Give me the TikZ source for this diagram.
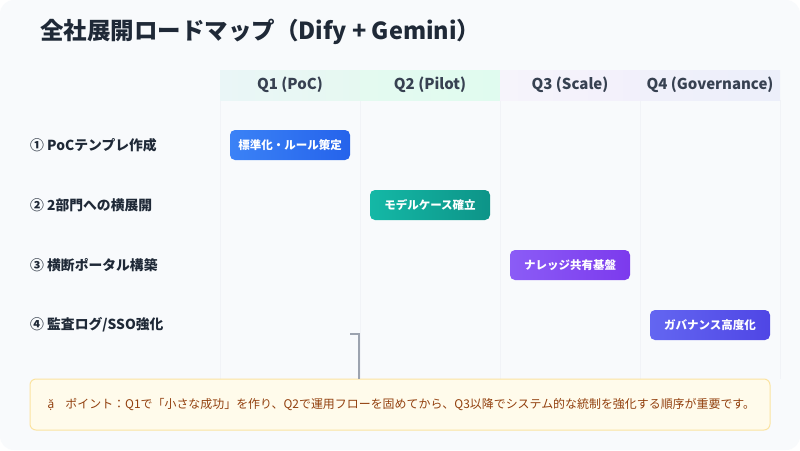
\documentclass[tikz,border=0pt]{standalone}
\usepackage{fontspec}
\setmainfont{Noto Sans CJK JP}
\newfontfamily\vietfont{Noto Sans}
\usetikzlibrary{positioning}

\definecolor{cardbg}{HTML}{F8FAFC}
\definecolor{titletext}{HTML}{1F2937}
\definecolor{headtext}{HTML}{374151}
\definecolor{labeltext}{HTML}{1F2937}
\definecolor{colline}{HTML}{F1F3F7}
\definecolor{qoneL}{HTML}{EAF6F7}
\definecolor{qoneR}{HTML}{E6F8F1}
\definecolor{qtwoL}{HTML}{E4FAF0}
\definecolor{qtwoR}{HTML}{E0FBEF}
\definecolor{qthreeL}{HTML}{F6F4FB}
\definecolor{qthreeR}{HTML}{F2F0FB}
\definecolor{qfourL}{HTML}{F0F0FA}
\definecolor{qfourR}{HTML}{ECEFFA}
\definecolor{blueL}{HTML}{3B82F6}
\definecolor{blueR}{HTML}{2563EB}
\definecolor{tealL}{HTML}{14B8A6}
\definecolor{tealR}{HTML}{0D9488}
\definecolor{violetL}{HTML}{8B5CF6}
\definecolor{violetR}{HTML}{7C3AED}
\definecolor{indigoL}{HTML}{6366F1}
\definecolor{indigoR}{HTML}{4F46E5}
\definecolor{notefill}{HTML}{FFFBEB}
\definecolor{noteline}{HTML}{FBE3A1}
\definecolor{notetext}{HTML}{92400E}
\definecolor{hookgray}{HTML}{9CA3AF}

\begin{document}
\begin{tikzpicture}[x=1pt,y=-1pt,
  qhead/.style={minimum width=140pt,minimum height=30pt,inner sep=0pt,text=headtext,
    font=\fontsize{15}{17}\selectfont\bfseries},
  rowlabel/.style={anchor=west,inner sep=0pt,text=labeltext,font=\fontsize{13.8}{16}\selectfont\bfseries},
  task/.style={rounded corners=5pt,minimum width=120pt,minimum height=30pt,inner sep=0pt,
    text=white,font=\fontsize{11.5}{13}\selectfont\bfseries}]
\fill[white] (0,0) rectangle (800,450);
\fill[cardbg,rounded corners=14pt] (0,0) rectangle (800,450);
\useasboundingbox (0,0) rectangle (800,450);
% title
\node[anchor=west,inner sep=0pt,text=titletext,font=\fontsize{23.5}{26}\selectfont\bfseries]
  (title) at (40,32) {全社展開ロードマップ（Dify + Gemini）};
% quarter columns
\foreach \x in {220,360,500,640,780} \draw[colline] (\x,100) -- (\x,379);
\foreach \lbl/\cl/\cr [count=\i] in {Q1 (PoC)/qoneL/qoneR,Q2 (Pilot)/qtwoL/qtwoR,
    Q3 (Scale)/qthreeL/qthreeR,Q4 (Governance)/qfourL/qfourR}
  \node[qhead,left color=\cl,right color=\cr] (q\i) at (150+140*\i,85) {\lbl};
% rows and tasks
\foreach \lbl [count=\i] in {① PoCテンプレ作成,② 2部門への横展開,③ 横断ポータル構築,④ 監査ログ/SSO強化}
  \node[rowlabel] (r\i) at (30,85+60*\i) {\lbl};
\foreach \lbl/\cl/\cr [count=\i] in {標準化・ルール策定/blueL/blueR,モデルケース確立/tealL/tealR,
    ナレッジ共有基盤/violetL/violetR,ガバナンス高度化/indigoL/indigoR}
  \node[task,left color=\cl,right color=\cr] (t\i) at (150+140*\i,85+60*\i) {\lbl};
% note
\node[draw=noteline,fill=notefill,line width=1pt,rounded corners=6pt,minimum width=740pt,
  minimum height=51pt,inner sep=0pt] (note) at (400,404.5) {};
\node[anchor=west,inner sep=0pt,text=notetext,font=\fontsize{11.95}{14}\selectfont]
  (notetext) at ([xshift=18pt]note.west)
  {{\vietfont ặ}\hspace{11pt}ポイント：Q1で「小さな成功」を作り、Q2で運用フローを固めてから、Q3以降でシステム的な統制を強化する順序が重要です。};
\coordinate (hook) at (350,334);
\coordinate (hookend) at (359,379);
\draw[hookgray,line width=1.5pt] (hook) -| (hookend);
\end{tikzpicture}
\end{document}
